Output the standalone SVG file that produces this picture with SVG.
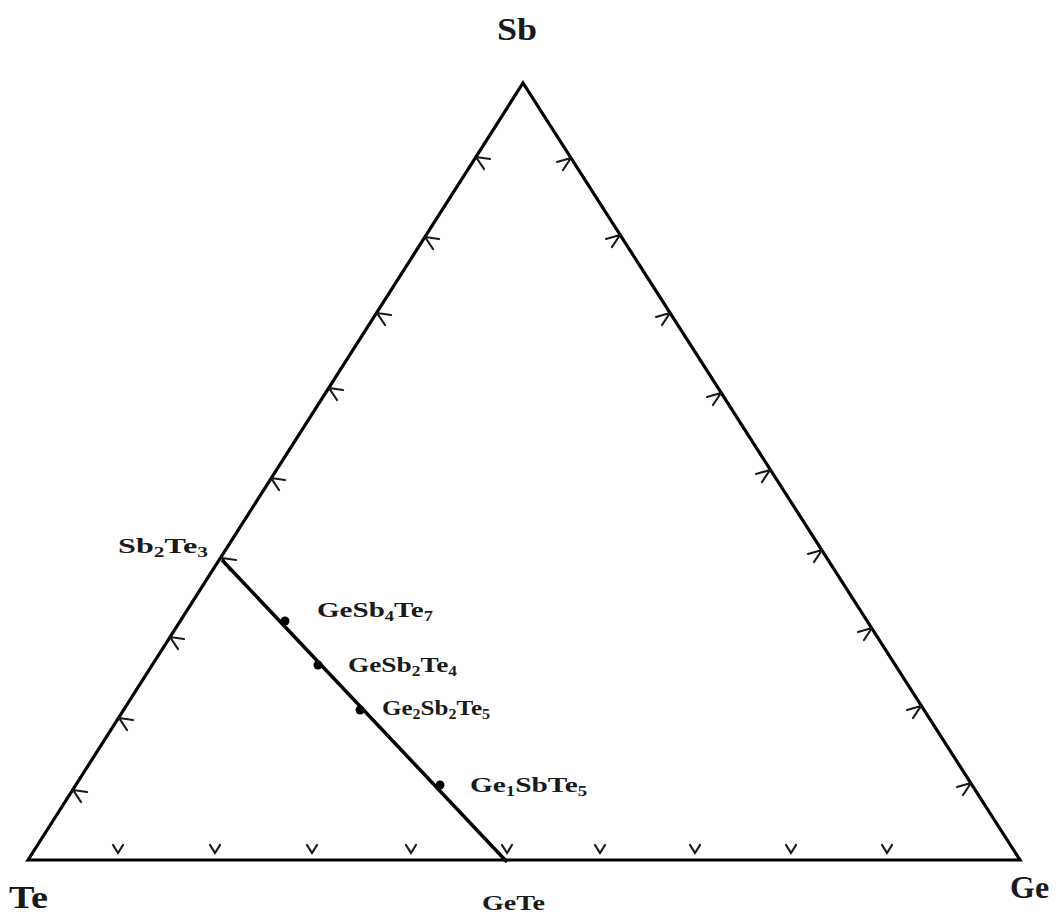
<svg xmlns="http://www.w3.org/2000/svg" width="1061" height="916" viewBox="0 0 1061 916">
<style>
.edge{fill:none;stroke:#000;stroke-width:3.2;stroke-linejoin:miter}
.tick{fill:none;stroke:#1a1a1a;stroke-width:2.2;stroke-linecap:round}
.lbl{font-family:"Liberation Serif","Times New Roman",serif;font-weight:bold;fill:#1a1a1a}
.sub{font-size:14px}
.dot{fill:#000}
</style>
<defs>
<path id="tl" class="tick" d="M0,0 l14,2 M0,0 l8,12"/>
<path id="tr" class="tick" d="M0,0 l-14,4 M0,0 l-8,12"/>
<path id="tb" class="tick" d="M-5,-8 L0,0 L5,-8"/>
</defs>
<rect width="1061" height="916" fill="#fff"/>
<g id="triangle">
<path class="edge" d="M28,860 L523,83 L1020,860 Z"/>
</g>
<g id="ticks">
<use href="#tl" x="476" y="157"/><use href="#tl" x="425" y="237"/><use href="#tl" x="377" y="313"/><use href="#tl" x="329" y="388"/><use href="#tl" x="271" y="478"/><use href="#tl" x="222" y="558"/><use href="#tl" x="170" y="637"/><use href="#tl" x="119" y="718"/><use href="#tl" x="73" y="790"/>
<use href="#tr" x="571" y="158"/><use href="#tr" x="620" y="235"/><use href="#tr" x="670" y="313"/><use href="#tr" x="721" y="393"/><use href="#tr" x="770" y="470"/><use href="#tr" x="822" y="550"/><use href="#tr" x="872" y="628"/><use href="#tr" x="921" y="706"/><use href="#tr" x="971" y="783"/>
<use href="#tb" x="118" y="853"/><use href="#tb" x="215" y="853"/><use href="#tb" x="312" y="853"/><use href="#tb" x="411" y="853"/><use href="#tb" x="507" y="853"/><use href="#tb" x="600" y="853"/><use href="#tb" x="695" y="853"/><use href="#tb" x="791" y="853"/><use href="#tb" x="887" y="853"/>
</g>
<g id="connectors">
<line x1="222" y1="560" x2="507" y2="862" stroke="#000" stroke-width="3.5"/>
</g>
<g id="GeSb4Te7"><circle class="dot" cx="285" cy="621" r="4.5"/><text class="lbl" x="317" y="617" font-size="22" textLength="116" lengthAdjust="spacingAndGlyphs">GeSb<tspan class="sub" dy="4">4</tspan><tspan dy="-4">Te</tspan><tspan class="sub" dy="4">7</tspan></text></g>
<g id="GeSb2Te4"><circle class="dot" cx="318" cy="665" r="4.5"/><text class="lbl" x="348" y="672" font-size="22" textLength="109" lengthAdjust="spacingAndGlyphs">GeSb<tspan class="sub" dy="4">2</tspan><tspan dy="-4">Te</tspan><tspan class="sub" dy="4">4</tspan></text></g>
<g id="Ge2Sb2Te5"><circle class="dot" cx="360" cy="710" r="4.5"/><text class="lbl" x="382" y="715" font-size="22" textLength="108" lengthAdjust="spacingAndGlyphs">Ge<tspan class="sub" dy="4">2</tspan><tspan dy="-4">Sb</tspan><tspan class="sub" dy="4">2</tspan><tspan dy="-4">Te</tspan><tspan class="sub" dy="4">5</tspan></text></g>
<g id="Ge1SbTe5"><circle class="dot" cx="440" cy="785" r="4.5"/><text class="lbl" x="470" y="792" font-size="22" textLength="117" lengthAdjust="spacingAndGlyphs">Ge<tspan class="sub" dy="4">1</tspan><tspan dy="-4">SbTe</tspan><tspan class="sub" dy="4">5</tspan></text></g>
<g id="Sb2Te3"><text class="lbl" x="118" y="553" font-size="21" textLength="90" lengthAdjust="spacingAndGlyphs">Sb<tspan class="sub" dy="4">2</tspan><tspan dy="-4">Te</tspan><tspan class="sub" dy="4">3</tspan></text></g>
<g id="GeTe"><text class="lbl" x="482" y="910" font-size="22" textLength="63" lengthAdjust="spacingAndGlyphs">GeTe</text></g>
<g id="Sb"><text class="lbl" x="497" y="40" font-size="31" textLength="40" lengthAdjust="spacingAndGlyphs">Sb</text></g>
<g id="Te"><text class="lbl" x="9" y="908" font-size="31" textLength="39" lengthAdjust="spacingAndGlyphs">Te</text></g>
<g id="Ge"><text class="lbl" x="1010" y="898" font-size="32">Ge</text></g>
</svg>
